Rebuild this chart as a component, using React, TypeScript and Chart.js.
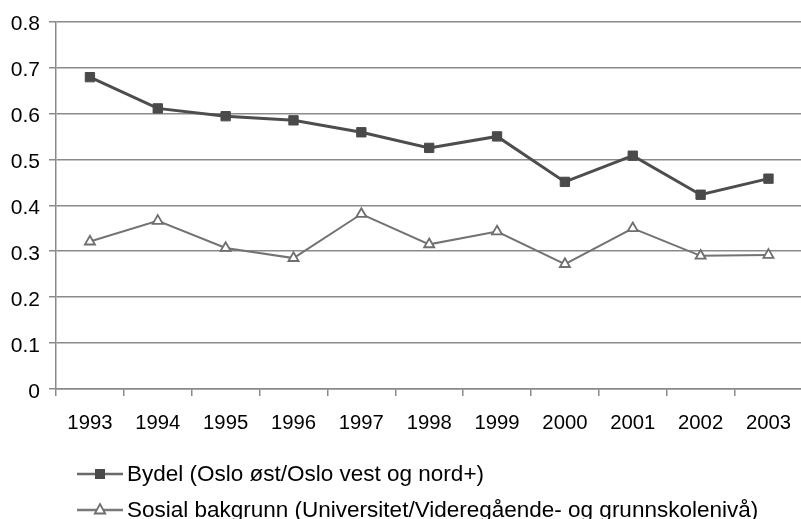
import React, { useEffect, useRef } from "react";
import { Chart, registerables } from "chart.js";

Chart.register(...registerables);

const years = ["1993", "1994", "1995", "1996", "1997", "1998", "1999", "2000", "2001", "2002", "2003"];
const bydelValues = [0.679, 0.611, 0.594, 0.585, 0.559, 0.525, 0.55, 0.451, 0.508, 0.423, 0.458];
const sosialValues = [0.321, 0.366, 0.307, 0.285, 0.381, 0.315, 0.343, 0.272, 0.35, 0.29, 0.292];
const seriesLabels = [
  "Bydel (Oslo øst/Oslo vest og nord+)",
  "Sosial bakgrunn (Universitet/Videregående- og grunnskolenivå)",
];
const yTicks = [0, 0.1, 0.2, 0.3, 0.4, 0.5, 0.6, 0.7, 0.8];

const FONT = "'Liberation Sans', Arial, sans-serif";
const GRID = "#8a8a8a";

const legendPlugin = {
  id: "customLegend",
  afterDraw(chart: any) {
    const ctx = chart.ctx as CanvasRenderingContext2D;
    const rowsY = [474, 510];
    const x0 = 77;
    const x1 = 123;
    chart.data.datasets.forEach((ds: any, i: number) => {
      const y = rowsY[i];
      ctx.save();
      ctx.strokeStyle = ds.legendLine;
      ctx.lineWidth = 2.5;
      ctx.beginPath();
      ctx.moveTo(x0, y);
      ctx.lineTo(x1, y);
      ctx.stroke();
      const cx = (x0 + x1) / 2;
      if (ds.pointStyle === "rect") {
        ctx.fillStyle = ds.pointBackgroundColor;
        ctx.fillRect(cx - 5, y - 5, 10, 10);
      } else {
        ctx.fillStyle = "#ffffff";
        ctx.strokeStyle = ds.pointBorderColor;
        ctx.lineWidth = 1.8;
        ctx.beginPath();
        ctx.moveTo(cx, y - 6);
        ctx.lineTo(cx + 5.2, y + 3.5);
        ctx.lineTo(cx - 5.2, y + 3.5);
        ctx.closePath();
        ctx.fill();
        ctx.stroke();
      }
      ctx.fillStyle = "#000000";
      ctx.font = `22.5px ${FONT}`;
      ctx.textAlign = "left";
      ctx.textBaseline = "middle";
      ctx.fillText(ds.label, x1 + 4, y + 1);
      ctx.restore();
    });
  },
};

export default function App() {
  const ref = useRef<HTMLCanvasElement>(null);
  useEffect(() => {
    if (!ref.current) return;
    const chart = new Chart(ref.current, {
      type: "line",
      data: {
        labels: years,
        datasets: [
          {
            label: seriesLabels[0],
            data: bydelValues,
            borderColor: "#4d4d4d",
            borderWidth: 3,
            pointStyle: "rect",
            pointRadius: 6.6,
            pointBackgroundColor: "#4a4a4a",
            pointBorderColor: "#4a4a4a",
            pointBorderWidth: 1,
            tension: 0,
            legendLine: "#6a6a6a",
          } as any,
          {
            label: seriesLabels[1],
            data: sosialValues,
            borderColor: "#737373",
            borderWidth: 2,
            pointStyle: "triangle",
            pointRadius: 5.8,
            pointBackgroundColor: "#ffffff",
            pointBorderColor: "#6e6e6e",
            pointBorderWidth: 1.8,
            tension: 0,
            legendLine: "#7a7a7a",
          } as any,
        ],
      },
      options: {
        animation: false,
        responsive: false,
        events: [],
        layout: { padding: { top: 21, left: 0, right: 3, bottom: 0 } },
        plugins: { legend: { display: false }, tooltip: { enabled: false } },
        scales: {
          x: {
            type: "category",
            offset: true,
            afterFit: (s: any) => {
              s.height = 130;
            },
            grid: {
              offset: true,
              drawOnChartArea: false,
              drawTicks: true,
              tickLength: 7,
              color: GRID,
              lineWidth: 1.5,
            },
            border: { display: true, color: GRID, width: 1.5 },
            ticks: {
              color: "#000000",
              font: { family: FONT, size: 20.3 },
              padding: 15,
              maxRotation: 0,
              autoSkip: false,
            },
          },
          y: {
            min: 0,
            max: 0.8,
            afterFit: (s: any) => {
              s.width = 56;
            },
            afterBuildTicks: (s: any) => {
              s.ticks = yTicks.map((v) => ({ value: v }));
            },
            grid: {
              color: GRID,
              lineWidth: 1.5,
              tickLength: 7,
              drawTicks: true,
            },
            border: { display: true, color: GRID, width: 1.5 },
            ticks: {
              color: "#000000",
              font: { family: FONT, size: 21 },
              padding: 9,
              labelOffset: 3,
              callback: (v: any) => String(Math.round(Number(v) * 10) / 10),
            },
          },
        },
      },
      plugins: [legendPlugin],
    });
    return () => chart.destroy();
  }, []);
  return (
    <div
      style={{
        position: "fixed",
        left: 0,
        top: 0,
        width: 801,
        height: 519,
        overflow: "hidden",
        background: "#ffffff",
      }}
    >
      <canvas ref={ref} width={810} height={519} style={{ width: 810, height: 519, display: "block" }} />
    </div>
  );
}
